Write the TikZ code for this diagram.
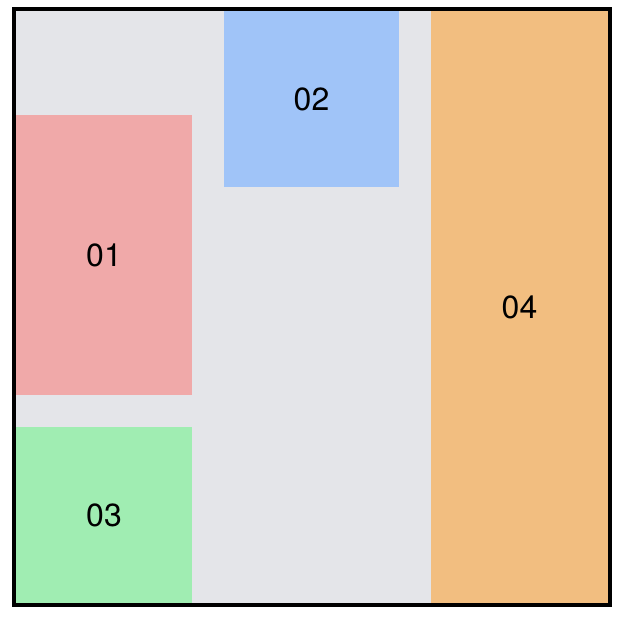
\documentclass[tikz,border=0pt]{standalone}
\usepackage{fontspec}
\setmainfont{TeX Gyre Heros}
\usepackage{xcolor}
\usetikzlibrary{positioning}

\definecolor{bggray}{HTML}{E4E5E9}
\definecolor{tilered}{HTML}{F0A9A9}
\definecolor{tileblue}{HTML}{A0C4F8}
\definecolor{tilegreen}{HTML}{A0EDB2}
\definecolor{tileorange}{HTML}{F2BE80}

\begin{document}
\begin{tikzpicture}[
    x=0.5pt, y=-0.5pt,
    tile/.style={inner sep=0pt, outer sep=0pt, anchor=north west, font=\fontsize{16}{19}\selectfont},
    frame/.style={draw=black, line width=2pt}
]
\useasboundingbox (0,0) rectangle (636,628);
\fill[bggray] (16,11) rectangle (608,603);
\node[tile, fill=tilered, minimum width=88pt, minimum height=140pt] (t01) at (16,115) {01};
\node[tile, fill=tilegreen, minimum width=88pt, minimum height=88pt, below right=16pt and 0pt of t01.south west] (t03) {03};
\node[tile, fill=tileblue, minimum width=87.5pt, minimum height=88pt] (t02) at (224,11) {02};
\node[tile, fill=tileorange, minimum width=88.5pt, minimum height=296pt] (t04) at (431,11) {04};
\draw[frame] (14,9) rectangle (610,605);
\end{tikzpicture}
\end{document}
